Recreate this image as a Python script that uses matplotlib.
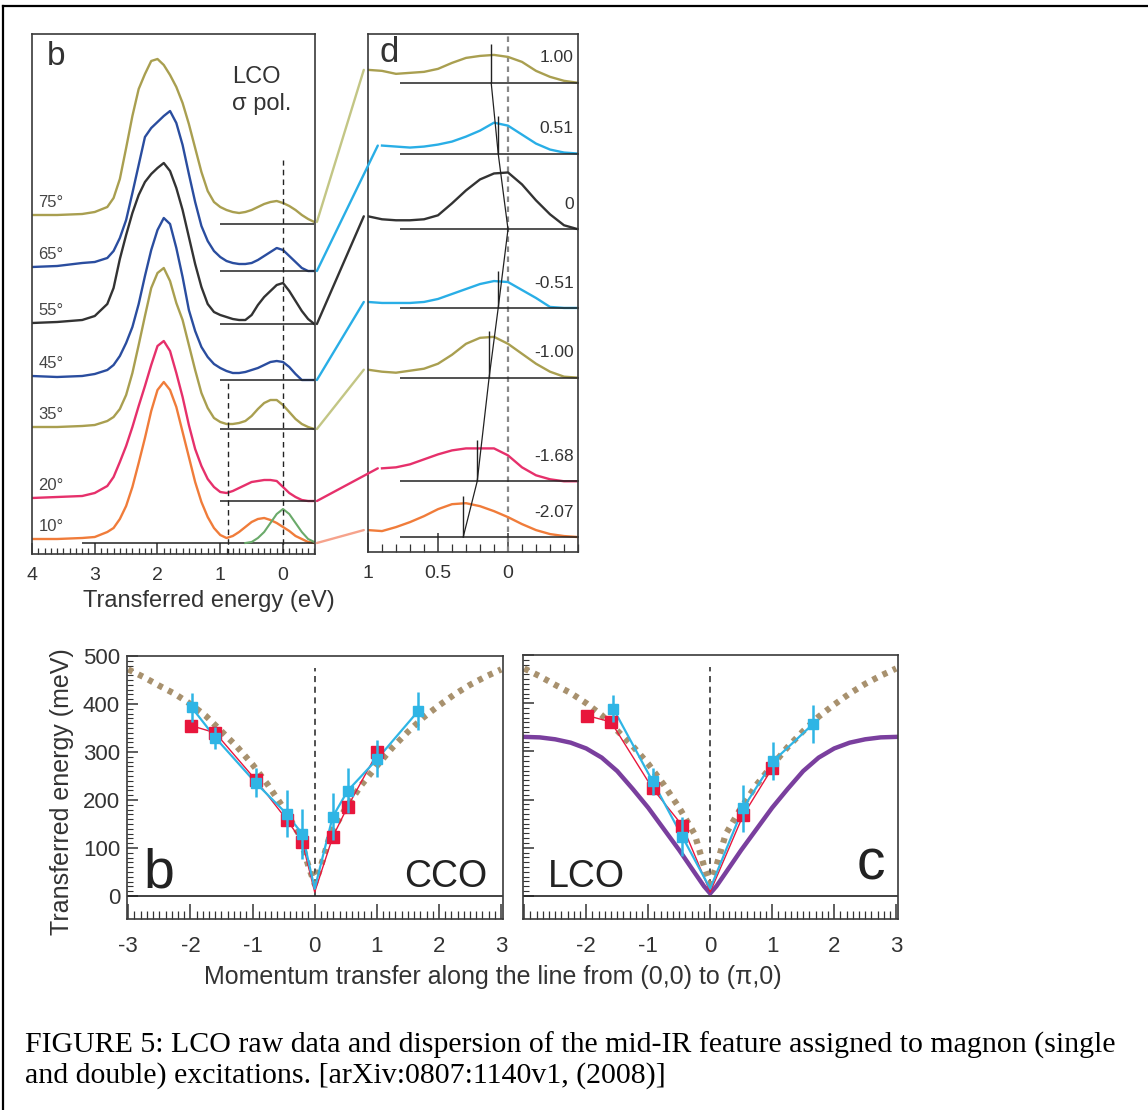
import numpy as np
import matplotlib
matplotlib.use("Agg")
import matplotlib.pyplot as plt
from matplotlib.patches import ConnectionPatch
from matplotlib.lines import Line2D
from matplotlib.ticker import MultipleLocator

plt.rcParams['font.family'] = ['Liberation Sans', 'DejaVu Sans']
plt.rcParams['axes.unicode_minus'] = False

# ---------------- panel b: spectra, intensity (arb. units) above each baseline
angles = ['75°', '65°', '55°', '45°', '35°', '20°', '10°']
energy_b = [4.0, 3.6, 3.2, 3.0, 2.8, 2.7, 2.6, 2.5, 2.4, 2.3, 2.2, 2.1, 2.0, 1.9, 1.8, 1.7,
            1.6, 1.5, 1.4, 1.3, 1.2, 1.1, 1.0, 0.9, 0.8, 0.7, 0.6, 0.5, 0.4, 0.3, 0.2, 0.1,
            0.0, -0.1, -0.2, -0.3, -0.4, -0.5]
spec_75 = [0.9, 0.9, 1.0, 1.2, 1.7, 2.6, 4.5, 7.6, 10.8, 13.5, 15.0, 16.3, 16.5, 15.9, 14.9, 13.7,
           12.1, 10.0, 7.6, 5.2, 3.3, 2.2, 1.7, 1.4, 1.2, 1.1, 1.2, 1.4, 1.7, 2.0, 2.2, 2.3,
           2.1, 1.8, 1.4, 0.9, 0.5, 0.2]
spec_65 = [0.4, 0.5, 0.8, 0.9, 1.3, 2.0, 3.3, 5.1, 7.8, 10.6, 13.4, 14.3, 14.9, 15.5, 16.0, 14.8,
           12.6, 9.7, 6.9, 4.5, 3.0, 2.0, 1.4, 1.0, 0.8, 0.7, 0.7, 0.8, 1.1, 1.5, 1.9, 2.3,
           2.1, 1.5, 0.9, 0.3, 0.0, 0.0]
spec_55 = [0.1, 0.2, 0.4, 0.8, 2.0, 3.6, 6.5, 8.9, 11.1, 12.9, 14.2, 15.0, 15.6, 16.1, 15.3, 13.6,
           11.4, 8.7, 6.0, 3.7, 2.0, 1.2, 0.9, 0.7, 0.5, 0.4, 0.4, 0.9, 1.9, 2.7, 3.3, 3.9,
           4.1, 3.3, 2.3, 1.3, 0.5, 0.0]
spec_45 = [0.4, 0.3, 0.4, 0.6, 1.0, 1.5, 2.4, 3.7, 5.3, 7.6, 10.4, 13.0, 15.0, 16.2, 15.6, 13.2,
           10.3, 7.0, 4.9, 3.3, 2.3, 1.6, 1.2, 0.9, 0.7, 0.7, 0.8, 1.0, 1.2, 1.5, 1.8, 1.9,
           1.8, 1.3, 0.6, 0.0, 0.0, 0.0]
spec_35 = [0.2, 0.2, 0.3, 0.4, 0.8, 1.2, 2.0, 3.4, 5.6, 8.4, 11.3, 14.1, 15.6, 16.1, 14.8, 12.6,
           10.9, 8.4, 5.9, 3.6, 2.1, 1.1, 0.7, 0.5, 0.5, 0.6, 0.8, 1.3, 2.0, 2.6, 2.9, 2.9,
           2.4, 1.7, 1.0, 0.5, 0.2, 0.0]
spec_20 = [0.3, 0.4, 0.5, 0.8, 1.5, 2.4, 3.9, 5.5, 7.4, 9.5, 11.5, 13.6, 15.5, 16.0, 15.0, 12.8,
           10.4, 7.6, 5.2, 3.5, 2.2, 1.4, 0.9, 0.8, 1.0, 1.3, 1.6, 1.9, 2.0, 2.1, 2.1, 2.0,
           1.4, 0.8, 0.4, 0.1, 0.0, 0.0]
spec_10 = [0.4, 0.4, 0.5, 0.6, 1.1, 1.5, 2.4, 3.7, 5.6, 8.0, 10.5, 13.2, 15.3, 16.1, 15.3, 13.6,
           11.1, 8.6, 6.1, 4.1, 2.6, 1.5, 0.8, 0.5, 0.7, 1.1, 1.6, 2.1, 2.4, 2.5, 2.3, 2.0,
           1.6, 1.2, 0.7, 0.4, 0.1, 0.0]
spectra_b = [spec_75, spec_65, spec_55, spec_45, spec_35, spec_20, spec_10]
offsets_b = [33.0, 28.3, 23.0, 17.4, 12.5, 5.3, 1.1]
baseline_start_b = [1.0, 1.0, 1.0, 1.0, 1.0, 1.0, 3.2]
colors_b = ['#a99f50', '#2a4d9f', '#333333', '#2a4d9f', '#a99f50', '#e6306b', '#f07c3a']

# elastic-line fit of the 10 deg spectrum
energy_fit = [0.6, 0.5, 0.4, 0.3, 0.2, 0.1, 0.0, -0.1, -0.2, -0.3, -0.4, -0.5]
fit_10 = [0.0, 0.1, 0.5, 1.1, 2.0, 2.9, 3.4, 2.9, 2.0, 1.1, 0.4, 0.1]

# ---------------- panel d: low-energy zoom for each momentum
q_labels = ['1.00', '0.51', '0', '-0.51', '-1.00', '-1.68', '-2.07']
energy_d = [1.0, 0.9, 0.8, 0.7, 0.6, 0.5, 0.4, 0.3, 0.2, 0.1, 0.0, -0.1, -0.2, -0.3, -0.4, -0.5]
nan = np.nan
spec_q1 = [1.3, 1.2, 0.9, 1.0, 1.1, 1.4, 2.0, 2.5, 2.7, 2.8, 2.6, 2.1, 1.2, 0.6, 0.2, 0.0]
spec_q2 = [nan, 0.8, 0.7, 0.6, 0.7, 0.9, 1.2, 1.7, 2.3, 3.1, 2.8, 1.9, 1.0, 0.4, 0.1, 0.0]
spec_q3 = [1.3, 1.0, 0.9, 0.9, 1.0, 1.4, 2.6, 3.9, 5.0, 5.6, 5.7, 4.5, 2.9, 1.5, 0.4, 0.0]
spec_q4 = [0.6, 0.5, 0.5, 0.5, 0.6, 0.9, 1.4, 1.9, 2.4, 2.7, 2.6, 1.8, 1.0, 0.1, 0.0, 0.0]
spec_q5 = [0.8, 0.6, 0.5, 0.7, 0.9, 1.4, 2.3, 3.4, 4.0, 4.1, 3.4, 2.4, 1.4, 0.6, 0.1, 0.0]
spec_q6 = [nan, 1.3, 1.4, 1.7, 2.2, 2.7, 3.1, 3.3, 3.3, 3.3, 2.6, 1.4, 0.6, 0.2, 0.0, 0.0]
spec_q7 = [0.7, 0.6, 1.0, 1.5, 2.1, 2.8, 3.3, 3.4, 3.1, 2.6, 2.0, 1.3, 0.7, 0.3, 0.1, 0.0]
spectra_d = [spec_q1, spec_q2, spec_q3, spec_q4, spec_q5, spec_q6, spec_q7]
offsets_d = [47.1, 40.0, 32.4, 24.5, 17.5, 7.1, 1.5]
colors_d = ['#a99f50', '#29aee6', '#333333', '#29aee6', '#a99f50', '#e6306b', '#f07c3a']
colors_link = ['#c3c685', '#29aee6', '#333333', '#29aee6', '#c3c685', '#e6306b', '#f6a38c']
peak_pos = [0.12, 0.07, 0.0, 0.07, 0.135, 0.22, 0.32]
peak_mark = [3.9, 3.8, 0.0, 3.7, 4.7, 4.1, 4.1]

# ---------------- dispersion panels
k_theory = [-3.0, -2.75, -2.5, -2.25, -2.0, -1.75, -1.5, -1.25, -1.0, -0.75, -0.5, -0.25, -0.1,
            0.0, 0.1, 0.25, 0.5, 0.75, 1.0, 1.25, 1.5, 1.75, 2.0, 2.25, 2.5, 2.75, 3.0]
e_spinwave = [472, 456, 438, 421, 400, 375, 343, 311, 274, 231, 183, 128, 62,
              25, 62, 128, 183, 231, 271, 309, 342, 372, 397, 420, 440, 457, 472]
e_lco_calc = [330, 329, 325, 318, 306, 287, 259, 222, 183, 139, 95, 48, 20,
              5, 20, 48, 95, 139, 183, 222, 259, 287, 306, 318, 325, 329, 330]

cco_red_k = [-1.99, -1.6, -0.95, -0.45, -0.2, 0.0, 0.29, 0.53, 1.01]
cco_red_e = [355, 340, 242, 159, 113, 8, 123, 186, 299]
cco_cyan_k = [-1.98, -1.6, -0.95, -0.45, -0.2, 0.0, 0.29, 0.53, 1.01, 1.67]
cco_cyan_e = [393, 330, 236, 171, 129, 15, 165, 219, 286, 386]
cco_cyan_err = [30, 23, 30, 49, 52, 0, 49, 47, 38, 40]

lco_red_k = [-1.98, -1.6, -0.93, -0.45, 0.0, 0.53, 1.0]
lco_red_e = [374, 361, 223, 146, 8, 167, 265]
lco_cyan_k = [-1.56, -0.93, -0.45, 0.0, 0.53, 1.02, 1.66]
lco_cyan_e = [388, 238, 123, 15, 182, 280, 357]
lco_cyan_err = [28, 28, 40, 0, 49, 40, 40]

W, H = 1148, 1110
fig = plt.figure(figsize=(W / 100, H / 100), dpi=100)


def px_box(left, top, right, bottom):
    return [left / W, 1 - bottom / H, (right - left) / W, (bottom - top) / H]


frame_col = '#3a3a3a'
tick_col = '#333333'

# ---------- panel b
ax_b = fig.add_axes(px_box(32, 34, 315, 554))
for i in range(7):
    y = np.array(spectra_b[i]) + offsets_b[i]
    ax_b.plot(energy_b, y, color=colors_b[i], lw=1.7, solid_joinstyle='round')
    ax_b.hlines(offsets_b[i], baseline_start_b[i], -0.5, color='#222222', lw=1.1)
    ax_b.text(3.9, offsets_b[i] + spectra_b[i][0] + 0.5, angles[i], fontsize=12,
              color='#444444', ha='left', va='bottom')
ax_b.plot(energy_fit, np.array(fit_10) + offsets_b[6], color='#6aaa6a', lw=1.5)
ax_b.vlines(0.0, 0, 39.4, color='#222222', lw=1.0, linestyles=(0, (4, 3)))
ax_b.vlines(0.88, 0, 17.4, color='#222222', lw=1.0, linestyles=(0, (4, 3)))
ax_b.set_xlim(4.0, -0.51)
ax_b.set_ylim(0, 52)
ax_b.set_xticks([4, 3, 2, 1, 0])
ax_b.set_xticklabels(['4', '3', '2', '1', '0'])
ax_b.xaxis.set_minor_locator(MultipleLocator(0.1))
ax_b.tick_params(axis='x', which='both', direction='in', colors=tick_col, labelsize=14, pad=9)
ax_b.tick_params(axis='x', which='major', length=8, width=1.1)
ax_b.tick_params(axis='x', which='minor', length=4.5, width=0.9)
ax_b.tick_params(axis='y', left=False, labelleft=False)
ax_b.text(0.053, 0.94, 'b', transform=ax_b.transAxes, fontsize=24, color='#333333')
ax_b.text(0.707, 0.906, 'LCO', transform=ax_b.transAxes, fontsize=17, color='#333333')
ax_b.text(0.707, 0.854, 'σ pol.', transform=ax_b.transAxes, fontsize=17, color='#333333')

# ---------- panel d
ax_d = fig.add_axes(px_box(368, 34, 578, 552))
ax_d.vlines(0.0, 0, 52, color='#888888', lw=1.6, linestyles=(0, (2.5, 2)))
for i in range(7):
    y = np.array(spectra_d[i]) + offsets_d[i]
    ax_d.plot(energy_d, y, color=colors_d[i], lw=1.7)
    ax_d.hlines(offsets_d[i], 0.77, -0.51, color='#222222', lw=1.1, clip_on=False)
    ax_d.text(-0.47, offsets_d[i] + 2.5, q_labels[i], fontsize=12.5, color='#333333',
              ha='right', va='center')
peak_base = np.array(offsets_d)
ax_d.plot(peak_pos, peak_base, color='#222222', lw=0.9)
for i in range(7):
    if peak_mark[i] > 0:
        ax_d.vlines(peak_pos[i], peak_base[i], peak_base[i] + peak_mark[i], color='#222222', lw=1.0)
ax_d.set_xlim(1.0, -0.5)
ax_d.set_ylim(0, 52)
ax_d.set_xticks([1, 0.5, 0])
ax_d.set_xticklabels(['1', '0.5', '0'])
ax_d.xaxis.set_minor_locator(MultipleLocator(0.1))
ax_d.tick_params(axis='x', which='both', direction='in', colors=tick_col, labelsize=14, pad=9)
ax_d.tick_params(axis='x', which='major', length=14, width=1.1)
ax_d.tick_params(axis='x', which='minor', length=6, width=0.9)
ax_d.tick_params(axis='y', left=False, labelleft=False)
ax_d.text(0.057, 0.946, 'd', transform=ax_d.transAxes, fontsize=25, color='#333333')

for ax in (ax_b, ax_d):
    for s in ax.spines.values():
        s.set_color(frame_col)
        s.set_linewidth(1.2)

# connectors from panel b spectra to panel d spectra
for i in range(7):
    yb = offsets_b[i] + spectra_b[i][-1]
    j = 0 if not np.isnan(spectra_d[i][0]) else 1
    yd = offsets_d[i] + spectra_d[i][j]
    con = ConnectionPatch(xyA=(-0.54, yb), coordsA=ax_b.transData,
                          xyB=(energy_d[j] + 0.03, yd), coordsB=ax_d.transData,
                          color=colors_link[i], lw=1.7)
    fig.add_artist(con)

fig.text(209 / W, 1 - 601 / H, 'Transferred energy (eV)', fontsize=17, color='#333333',
         ha='center', va='center')

# ---------- dispersion panels
ax_c1 = fig.add_axes(px_box(127, 656, 503, 919))
ax_c2 = fig.add_axes(px_box(523, 655, 898, 919))

red = '#e8163c'
cyan = '#2fb5e5'


def disp_panel(ax, rk, re, ck, ce, cerr):
    ax.plot(k_theory, e_spinwave, color='#a8916e', lw=4.5, linestyle=(0, (0.8, 1.0)),
            zorder=2)
    ax.axhline(0, color='#222222', lw=1.2)
    ax.vlines(0, 0, 476, color='#222222', lw=1.1, linestyles=(0, (4, 3)), zorder=1)
    rk = np.array(rk); re = np.array(re)
    ck = np.array(ck); ce = np.array(ce); cerr = np.array(cerr)
    ax.plot(rk, re, color=red, lw=1.0, zorder=3)
    ax.plot(ck, ce, color=cyan, lw=1.6, zorder=4)
    mr = rk != 0
    mc = ck != 0
    ax.plot(rk[mr], re[mr], 's', color=red, ms=8.5, zorder=5)
    ax.errorbar(ck[mc], ce[mc], yerr=cerr[mc], fmt='s', color=cyan, ms=6.5,
                elinewidth=1.8, capsize=0, zorder=6)
    ax.set_xlim(-3.02, 3.03)
    ax.set_ylim(-48, 500)
    ax.set_xticks([-3, -2, -1, 0, 1, 2, 3])
    ax.xaxis.set_minor_locator(MultipleLocator(0.1))
    ax.set_yticks([0, 100, 200, 300, 400, 500])
    ax.set_yticks(np.arange(0, 501, 10), minor=True)
    ax.tick_params(axis='both', which='both', direction='in', colors=tick_col, labelsize=16)
    ax.tick_params(axis='x', which='major', length=11, width=1.1, pad=12)
    ax.tick_params(axis='x', which='minor', length=5.5, width=0.9)
    ax.tick_params(axis='y', which='major', length=8, width=1.1, pad=5)
    ax.tick_params(axis='y', which='minor', length=4.5, width=0.8)
    for s in ax.spines.values():
        s.set_color(frame_col)
        s.set_linewidth(1.2)


disp_panel(ax_c1, cco_red_k, cco_red_e, cco_cyan_k, cco_cyan_e, cco_cyan_err)
ax_c1.set_xticklabels(['-3', '-2', '-1', '0', '1', '2', '3'])
ax_c1.set_yticklabels(['0', '100', '200', '300', '400', '500'])
ax_c1.text(0.043, 0.12, 'b', transform=ax_c1.transAxes, fontsize=40, color='#222222')
ax_c1.text(0.957, 0.12, 'CCO', transform=ax_c1.transAxes, fontsize=27, color='#222222',
           ha='right')

disp_panel(ax_c2, lco_red_k, lco_red_e, lco_cyan_k, lco_cyan_e, lco_cyan_err)
ax_c2.plot(k_theory, e_lco_calc, color='#7a3f9e', lw=3.2, zorder=2)
ax_c2.set_xticklabels(['', '-2', '-1', '0', '1', '2', '3'])
ax_c2.tick_params(axis='y', labelleft=False)
ax_c2.text(0.067, 0.12, 'LCO', transform=ax_c2.transAxes, fontsize=27, color='#222222')
ax_c2.text(0.965, 0.148, 'c', transform=ax_c2.transAxes, fontsize=41, color='#222222',
           ha='right')

fig.text(62 / W, 1 - 792 / H, 'Transferred energy (meV)', fontsize=18, color='#333333',
         rotation=90, ha='center', va='center')
fig.text(493 / W, 1 - 977 / H, 'Momentum transfer along the line from (0,0) to (π,0)',
         fontsize=18, color='#333333', ha='center', va='center')

# ---------- caption and page border
cap = dict(fontsize=21.5, family=['Liberation Serif', 'DejaVu Serif'], color='black',
           ha='left', va='baseline')
fig.text(25 / W, 1 - 1053 / H,
         'FIGURE 5: LCO raw data and dispersion of the mid-IR feature assigned to magnon (single',
         **cap)
fig.text(25 / W, 1 - 1083 / H,
         'and double) excitations. [arXiv:0807:1140v1, (2008)]', **cap)
fig.add_artist(Line2D([3 / W, 1], [1 - 6 / H, 1 - 6 / H], color='black', lw=1.6,
                      transform=fig.transFigure))
fig.add_artist(Line2D([3 / W, 3 / W], [0, 1 - 6 / H], color='black', lw=1.6,
                      transform=fig.transFigure))

fig.savefig('out.png', dpi=100)
